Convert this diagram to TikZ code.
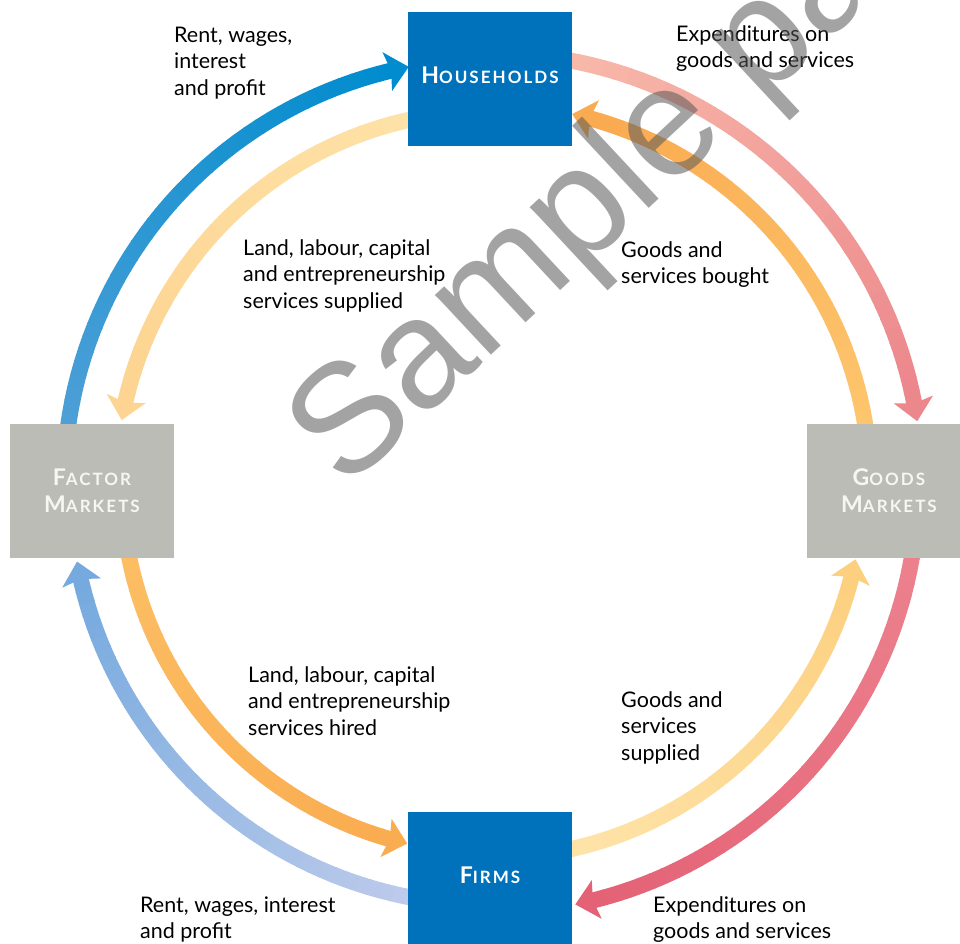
\documentclass[tikz,border=0pt]{standalone}
\usepackage{fontspec}
\setmainfont{Lato}
\newfontfamily\wmfont{Liberation Sans}
\newfontfamily\boxfont[LetterSpace=12]{Lato Bold}
\definecolor{hhblue}{RGB}{0,114,188}
\definecolor{mktgray}{RGB}{188,188,182}
\definecolor{mkttext}{RGB}{246,246,242}
\definecolor{blueA}{RGB}{80,160,215}
\definecolor{blueB}{RGB}{0,140,206}
\definecolor{lblueA}{RGB}{190,203,235}
\definecolor{lblueB}{RGB}{118,170,222}
\definecolor{pinkA}{RGB}{248,185,170}
\definecolor{pinkB}{RGB}{236,135,140}
\definecolor{redA}{RGB}{236,130,142}
\definecolor{redB}{RGB}{228,98,118}
\definecolor{orgA}{RGB}{253,198,110}
\definecolor{orgB}{RGB}{250,170,80}
\definecolor{pyA}{RGB}{254,226,168}
\definecolor{pyB}{RGB}{253,212,145}
\definecolor{orgtA}{RGB}{252,190,100}
\definecolor{orgtB}{RGB}{250,172,80}
\definecolor{pytA}{RGB}{254,228,170}
\definecolor{pytB}{RGB}{253,208,128}
\newcommand{\lines}[1]{\begin{tabular}[t]{@{}l@{}}#1\end{tabular}}
\newcommand{\sccap}[2]{{\fontsize{23}{27}\selectfont #1}{\fontsize{17}{27}\selectfont #2}}
% radius, start angle, tip angle, start colour, end colour
\newcommand{\flow}[5]{%
  \pgfmathsetmacro{\fsg}{sign(#3-#2)}%
  \pgfmathsetmacro{\fhb}{#3-\fsg*22/#1*57.2958}%
  \pgfmathsetmacro{\fhn}{#3-\fsg*18/#1*57.2958}%
  \pgfmathsetmacro{\fspan}{\fhn-#2}%
  \foreach \k in {0,...,39}{%
    \pgfmathsetmacro{\faa}{#2+\fspan*\k/40}%
    \pgfmathsetmacro{\fbb}{#2+\fspan*(\k+1)/40+\fsg*0.15}%
    \pgfmathtruncatemacro{\fpc}{100-100*\k/39}%
    \draw[line width=16pt,#4!\fpc!#5] (\faa:#1) arc[start angle=\faa,end angle=\fbb,radius=#1];
  }%
  \fill[#5] (#3:#1) -- (\fhb:#1+20) -- (\fhn:#1) -- (\fhb:#1-20) -- cycle;
}
\tikzset{
  hbox/.style={fill=hhblue,text=white,minimum width=164pt,minimum height=134pt,inner sep=0pt,
    font=\boxfont\fontsize{17}{27}\selectfont,text height=16pt,text depth=8pt},
  gbox/.style={fill=mktgray,text=mkttext,minimum width=164pt,minimum height=134pt,inner sep=0pt,
    font=\boxfont\fontsize{17}{27}\selectfont,align=center},
  lbl/.style={anchor=base west,inner sep=0pt,font=\fontsize{21.5}{26.5}\selectfont,text=black},
}
\begin{document}
\begin{tikzpicture}[x=1pt,y=1pt]
\useasboundingbox (0,0) rectangle (960,-943);
\fill[white] (0,0) rectangle (960,-943);
\coordinate (C) at (490,-485);
\begin{scope}[shift={(C)}]
  \flow{426}{174}{101}{blueA}{blueB}
  \flow{374}{100}{170}{pyA}{pyB}
  \flow{368}{190}{257}{orgtA}{orgtB}
  \flow{420}{260}{190.5}{lblueA}{lblueB}
  \flow{432}{80}{8.5}{pinkA}{pinkB}
  \flow{380}{8}{77.5}{orgA}{orgB}
  \flow{373}{281}{348.5}{pytA}{pytB}
  \flow{428}{352}{281.5}{redA}{redB}
\end{scope}
\node[hbox] (hh) at (490,-79) {\sccap{H}{OUSEHOLDS}};
\node[hbox] (fi) at (490,-879) {\sccap{F}{IRMS}};
\node[gbox] (fm) at (92,-491) {\sccap{F}{ACTOR}\\\sccap{M}{ARKETS}};
\node[gbox] (gm) at (889,-491) {\sccap{G}{OODS}\\\sccap{M}{ARKETS}};
\node[lbl] (l1) at (174,-42) {\lines{Rent, wages,\\interest\\and profit}};
\node[lbl] (l2) at (676,-41) {\lines{Expenditures on\\goods and services}};
\node[lbl] (l3) at (243,-255) {\lines{Land, labour, capital\\and entrepreneurship\\services supplied}};
\node[lbl] (l4) at (621,-257) {\lines{Goods and\\services bought}};
\node[lbl] (l5) at (248,-682) {\lines{Land, labour, capital\\and entrepreneurship\\services hired}};
\node[lbl] (l6) at (621,-707) {\lines{Goods and\\services\\supplied}};
\node[lbl] (l7) at (140,-912) {\lines{Rent, wages, interest\\and profit}};
\node[lbl] (l8) at (653,-912) {\lines{Expenditures on\\goods and services}};
\node[anchor=base west,inner sep=0pt,rotate=43,font=\wmfont\fontsize{155}{155}\selectfont,text=black!65,text opacity=0.55] (wm) at (345,-492) {Sample page};
\end{tikzpicture}
\end{document}
